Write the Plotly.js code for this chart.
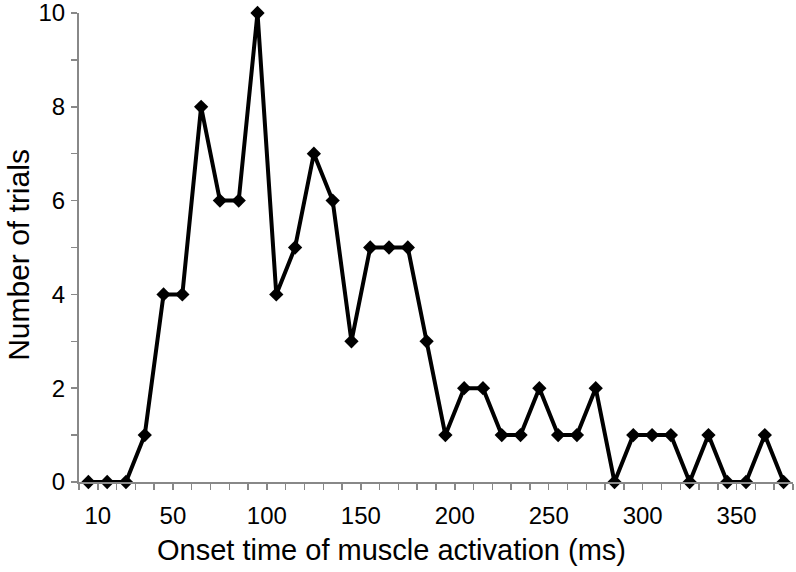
<!DOCTYPE html>
<html>
<head>
<meta charset="utf-8">
<script src="https://cdn.plot.ly/plotly-3.0.1.min.js"></script>
<style>html,body{margin:0;padding:0;background:#fff;}#chart{width:796px;height:572px;}</style>
</head>
<body>
<div id="chart"></div>
<script>
// Onset time categories (ms)
var onsetTimes = [10,20,30,40,50,60,70,80,90,100,110,120,130,140,150,160,170,180,190,200,210,220,230,240,250,260,270,280,290,300,310,320,330,340,350,360,370,380];
// Number of trials per onset time
var trialCounts = [0,0,0,1,4,4,8,6,6,10,4,5,7,6,3,5,5,5,3,1,2,2,1,1,2,1,1,2,0,1,1,1,0,1,0,0,1,0];
// Tick labels shown on the x axis
var xTickLabels = [10,50,100,150,200,250,300,350];
var yTickVals = [0,2,4,6,8,10];
var xTitle = 'Onset time of muscle activation (ms)';
var yTitle = 'Number of trials';

var binHalf = 5;
var tickPos = xTickLabels.map(function(v){return v + binHalf;});

var axisGray = '#888888';
var fontFam = 'Arial, "Liberation Sans", sans-serif';

var trace = {
  x: onsetTimes,
  y: trialCounts,
  type: 'scatter',
  mode: 'lines+markers',
  line: {color: '#000000', width: 4},
  marker: {symbol: 'diamond', size: 11, color: '#000000'},
  cliponaxis: false,
  hoverinfo: 'skip'
};

var layout = {
  width: 796,
  height: 572,
  margin: {l: 79, r: 3, t: 13, b: 90},
  paper_bgcolor: '#ffffff',
  plot_bgcolor: '#ffffff',
  showlegend: false,
  font: {family: fontFam, color: '#000000'},
  xaxis: {
    range: [onsetTimes[0] - binHalf, onsetTimes[onsetTimes.length-1] + binHalf],
    tickmode: 'array',
    tickvals: tickPos,
    ticktext: xTickLabels.map(String),
    ticks: 'outside',
    ticklen: 6,
    tickwidth: 1.5,
    tickcolor: axisGray,
    minor: {tickmode: 'linear', tick0: onsetTimes[0] - binHalf, dtick: 10, ticks: 'outside', ticklen: 6, tickwidth: 1.5, tickcolor: axisGray, showgrid: false},
    showline: true,
    linecolor: axisGray,
    linewidth: 2,
    showgrid: false,
    zeroline: false,
    tickfont: {size: 24, family: fontFam, color: '#000'},
    ticklabelstandoff: 5,
    ticklabeloverflow: 'allow'
  },
  yaxis: {
    range: [0, 10],
    tickmode: 'array',
    tickvals: yTickVals,
    ticks: 'outside',
    ticklen: 6,
    tickwidth: 1.5,
    tickcolor: axisGray,
    minor: {tickmode: 'linear', tick0: 1, dtick: 2, ticks: 'outside', ticklen: 6, tickwidth: 1.5, tickcolor: axisGray, showgrid: false},
    showline: true,
    linecolor: axisGray,
    linewidth: 2,
    showgrid: false,
    zeroline: false,
    tickfont: {size: 24, family: fontFam, color: '#000'},
    ticklabelstandoff: 1,
    ticklabeloverflow: 'allow'
  },
  annotations: [
    {text: xTitle, xref: 'paper', yref: 'paper', x: 0.437, y: -0.145, xanchor: 'center', yanchor: 'middle', showarrow: false, font: {size: 29, family: fontFam, color: '#000'}},
    {text: yTitle, xref: 'paper', yref: 'paper', x: -0.085, y: 0.485, xanchor: 'center', yanchor: 'middle', textangle: -90, showarrow: false, font: {size: 30, family: fontFam, color: '#000'}}
  ]
};

Plotly.newPlot('chart', [trace], layout, {displayModeBar: false, staticPlot: true});
</script>
</body>
</html>
